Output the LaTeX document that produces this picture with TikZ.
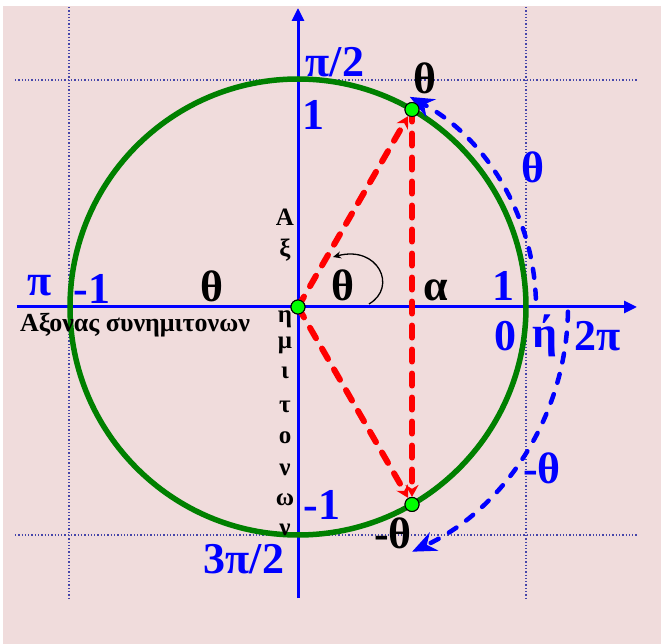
\documentclass[tikz,border=0pt]{standalone}
\usepackage{fontspec}
\setmainfont{Liberation Serif}
\usepackage{xcolor}
\usepackage{tikz}
\usetikzlibrary{arrows.meta,positioning}

\definecolor{bgpink}{RGB}{240,220,220}
\definecolor{circgreen}{RGB}{0,128,0}
\definecolor{ptgreen}{RGB}{0,255,0}
\definecolor{gridblue}{RGB}{70,70,170}

\begin{document}
\begin{tikzpicture}[
    x=1pt, y=1pt,
    axis/.style={draw=blue, line width=3pt, -{Triangle[length=13pt,width=12pt]}},
    gridline/.style={draw=gridblue, line width=1.3pt, dotted},
    unitcirc/.style={draw=circgreen, line width=5.5pt},
    chord/.style={draw=red, line width=6pt, dash pattern=on 12pt off 12pt, line cap=round, -{Stealth[length=12pt,width=13pt]}},
    turn/.style={draw=blue, line width=4.5pt, dash pattern=on 9pt off 12pt, line cap=round, -{Stealth[length=24pt,width=20pt]}},
    anglearc/.style={draw=black, line width=1.3pt, -{Stealth[length=8pt,width=7pt]}},
    pt/.style={circle, draw=black, fill=ptgreen, line width=1pt, minimum size=14pt, inner sep=0pt},
    bluelbl/.style={text=blue, font=\fontsize{44}{48}\selectfont\bfseries, inner sep=0pt},
    blklbl/.style={text=black, font=\fontsize{44}{48}\selectfont\bfseries, inner sep=0pt},
    axlbl/.style={text=black, font=\fontsize{25}{27}\selectfont\bfseries, inner sep=0pt},
]
    % Background
    \useasboundingbox (-298,-337) rectangle (363,307);
    \fill[white] (-298,-337) rectangle (363,307);
    \fill[bgpink] (-295,-337) rectangle (363,301);

    % Grid lines
    \coordinate (gtl) at (-283,227);
    \coordinate (gtr) at (339,227);
    \coordinate (gbl) at (-283,-228);
    \coordinate (gbr) at (339,-228);
    \coordinate (glt) at (-229,300);
    \coordinate (glb) at (-229,-293);
    \coordinate (grt) at (228,300);
    \coordinate (grb) at (228,-293);
    \draw[gridline] (gtl) -- (gtr);
    \draw[gridline] (gbl) -- (gbr);
    \draw[gridline] (glt) -- (glb);
    \draw[gridline] (grt) -- (grb);

    % Axes
    \coordinate (xstart) at (-281,0);
    \coordinate (xend) at (339,0);
    \coordinate (ystart) at (0,-291);
    \coordinate (yend) at (0,299);
    \draw[axis] (xstart) -- (xend);
    \draw[axis] (ystart) -- (yend);

    % Unit circle
    \draw[unitcirc] (0,0) circle[radius=228];

    % Points
    \node[pt] (O) at (0,0) {};
    \node[pt] (P) at (60:228) {};
    \node[pt] (Q) at (-60:228) {};

    % Turning arcs
    \draw[turn] (2:238) arc[start angle=2, end angle=62, radius=238];
    \draw[turn] (-1:270) arc[start angle=-1, end angle=-65, radius=270];

    % Chords
    \draw[chord] (O.center) -- (P);
    \draw[chord] (O.center) -- (Q);
    \draw[chord] (P.center) -- (Q);
    \node[pt] at (O) {};
    \node[pt] at (P) {};
    \node[pt] at (Q) {};

    % Angle mark
    \draw[anglearc] (71,3) .. controls (100,20) and (80,62) .. (35,50);

    % Labels
    \node[bluelbl] (piHalf) at (37,245) {π/2};
    \node[bluelbl] (oneTop) at (15,192) {1};
    \node[blklbl] (thTop) at (127,229) {θ};
    \node[bluelbl] (thRight) at (235,140) {θ};
    \node[bluelbl] (piLeft) at (-258,21) {π};
    \node[bluelbl] (oneLeft) at (-206,18) {-1};
    \node[blklbl] (thLeft) at (-86,21) {θ};
    \node[blklbl] (thMid) at (45,22) {θ};
    \node[blklbl] (alpha) at (138,17) {α};
    \node[bluelbl] (oneRight) at (205,21) {1};
    \node[bluelbl] (zero) at (207,-29) {0};
    \node[bluelbl] (or) at (247,-29) {ή};
    \node[bluelbl] (twoPi) at (300,-29) {2π};
    \node[bluelbl] (oneBot) at (24,-198) {-1};
    \node[blklbl] (thBot) at (95,-226) {-θ};
    \node[bluelbl] (threePiHalf) at (-54,-252) {3π/2};
    \node[bluelbl] (thNeg) at (244,-161) {-θ};
    \node[axlbl, font=\fontsize{26}{28}\selectfont\bfseries] (cosAxis) at (-163,-18) {Αξονας συνημιτονων};

    % Vertical axis name
    \foreach \ch/\yb [count=\i] in {Α/81, ξ/50, η/-16, μ/-42, ι/-72, τ/-106, ο/-137, ν/-169, ω/-199, ν/-229}
        \node[axlbl, anchor=base] (sinAxis\i) at (-13,\yb) {\ch};
\end{tikzpicture}
\end{document}
